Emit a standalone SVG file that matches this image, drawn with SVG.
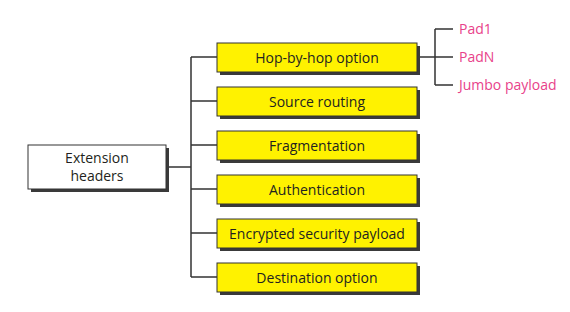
<svg xmlns="http://www.w3.org/2000/svg" width="570" height="312" viewBox="0 0 570 312">
  <style>
    .shadow { fill: #3a3a3a; }
    .root { fill: #ffffff; stroke: #333333; stroke-width: 1; }
    .item { fill: #fff200; stroke: #333333; stroke-width: 1; }
    .label { font-family: "Open Sans", "Liberation Sans", sans-serif; font-size: 14px; fill: #231f20; text-anchor: middle; }
    .opt { font-family: "Open Sans", "Liberation Sans", sans-serif; font-size: 14px; fill: #e8428a; }
    .wire { fill: none; stroke: #333333; stroke-width: 1.5; }
  </style>
  <rect width="570" height="312" fill="#ffffff"/>

  <g id="connectors">
    <path class="wire" d="M166 167 H191 M191 57 V277 M191 57 H217 M191 101 H217 M191 145 H217 M191 189 H217 M191 233 H217 M191 277 H217"/>
    <path class="wire" d="M420 57 H453 M435 29 V85 M435 29 H453 M435 85 H453"/>
  </g>

  <g id="extension-headers">
    <rect class="shadow" x="31" y="148" width="138" height="44"/>
    <rect class="root" x="28" y="145" width="138" height="44"/>
    <text class="label" x="97" y="163">Extension</text>
    <text class="label" x="97" y="181">headers</text>
  </g>

  <g id="hop-by-hop">
    <rect class="shadow" x="220" y="46" width="200" height="29"/>
    <rect class="item" x="217" y="43" width="200" height="29"/>
    <text class="label" x="317" y="62.5">Hop-by-hop option</text>
  </g>
  <g id="source-routing">
    <rect class="shadow" x="220" y="90" width="200" height="29"/>
    <rect class="item" x="217" y="87" width="200" height="29"/>
    <text class="label" x="317" y="106.5">Source routing</text>
  </g>
  <g id="fragmentation">
    <rect class="shadow" x="220" y="134" width="200" height="29"/>
    <rect class="item" x="217" y="131" width="200" height="29"/>
    <text class="label" x="317" y="150.5">Fragmentation</text>
  </g>
  <g id="authentication">
    <rect class="shadow" x="220" y="178" width="200" height="29"/>
    <rect class="item" x="217" y="175" width="200" height="29"/>
    <text class="label" x="317" y="194.5">Authentication</text>
  </g>
  <g id="encrypted-security-payload">
    <rect class="shadow" x="220" y="222" width="200" height="29"/>
    <rect class="item" x="217" y="219" width="200" height="29"/>
    <text class="label" x="317" y="238.5">Encrypted security payload</text>
  </g>
  <g id="destination-option">
    <rect class="shadow" x="220" y="266" width="200" height="29"/>
    <rect class="item" x="217" y="263" width="200" height="29"/>
    <text class="label" x="317" y="282.5">Destination option</text>
  </g>

  <g id="pad1"><text class="opt" x="459" y="34">Pad1</text></g>
  <g id="padn"><text class="opt" x="459" y="62">PadN</text></g>
  <g id="jumbo-payload"><text class="opt" x="459" y="90">Jumbo payload</text></g>
</svg>
